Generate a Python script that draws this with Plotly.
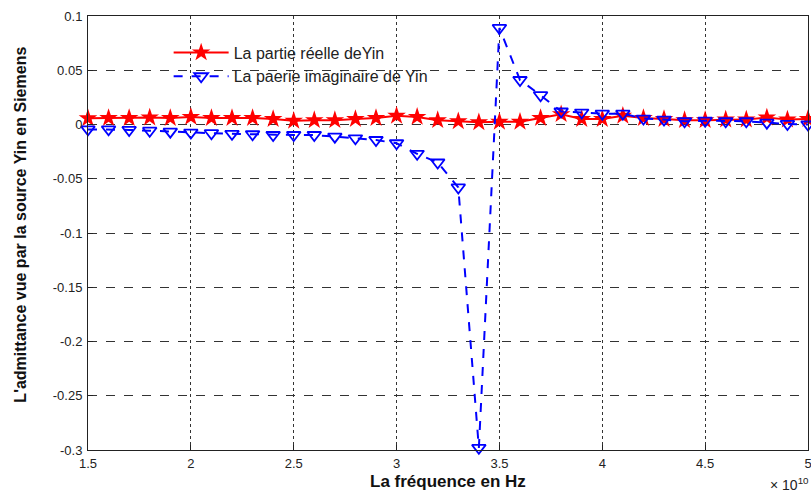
import plotly.graph_objects as go

freq = [1.5, 1.6, 1.7, 1.8, 1.9, 2.0, 2.1, 2.2, 2.3, 2.4, 2.5, 2.6, 2.7, 2.8, 2.9, 3.0,
        3.1, 3.2, 3.3, 3.4, 3.5, 3.6, 3.7, 3.8, 3.9, 4.0, 4.1, 4.2, 4.3, 4.4, 4.5, 4.6,
        4.7, 4.8, 4.9, 5.0]  # x 1e10 Hz

real_part = [0.0057, 0.006, 0.006, 0.0065, 0.006, 0.007, 0.006, 0.006, 0.006, 0.005,
             0.0035, 0.004, 0.004, 0.005, 0.006, 0.008, 0.007, 0.004, 0.003, 0.002,
             0.0025, 0.0025, 0.006, 0.0095, 0.005, 0.005, 0.008, 0.006, 0.005, 0.004,
             0.004, 0.0045, 0.0045, 0.0065, 0.0045, 0.005]

imag_part = [-0.0045, -0.0045, -0.005, -0.0057, -0.0066, -0.0075, -0.008, -0.0086,
             -0.009, -0.0097, -0.0097, -0.0097, -0.0112, -0.0127, -0.0143, -0.0173,
             -0.027, -0.035, -0.058, -0.298, 0.089, 0.041, 0.027, 0.012, 0.011, 0.010,
             0.010, 0.0055, 0.0045, 0.003, 0.0035, 0.003, 0.003, 0.0017, 0.0005, 0.0]

x_ticks = [1.5, 2.0, 2.5, 3.0, 3.5, 4.0, 4.5, 5.0]
x_tick_labels = ["1.5", "2", "2.5", "3", "3.5", "4", "4.5", "5"]
y_ticks = [0.1, 0.05, 0.0, -0.05, -0.1, -0.15, -0.2, -0.25, -0.3]
y_tick_labels = ["0.1", "0.05", "0", "-0.05", "-0.1", "-0.15", "-0.2", "-0.25", "-0.3"]

font = "Arial, Liberation Sans, sans-serif"

fig = go.Figure()
fig.add_trace(go.Scatter(
    x=freq, y=real_part, mode="lines+markers", name="La partie réelle deYin",
    line=dict(color="#ff0000", width=2),
    marker=dict(symbol="star", size=14, color="#ff0000"),
    cliponaxis=False,
))
fig.add_trace(go.Scatter(
    x=freq, y=imag_part, mode="lines+markers", name="La paerie imaginaire de Yin",
    line=dict(color="#0000ff", width=2, dash="dash"),
    marker=dict(symbol="triangle-down-open", size=12, color="#0000ff", line=dict(width=1.8)),
    cliponaxis=False,
))

axis_common = dict(
    showline=True, linecolor="#222222", linewidth=1, mirror=True,
    ticks="inside", ticklen=5, tickcolor="#222222",
    showgrid=True, gridcolor="#333333", gridwidth=1,
    zeroline=False, automargin=False, ticklabeloverflow="allow",
    tickfont=dict(size=13, family=font, color="#222222"),
)

fig.update_layout(
    width=811, height=492,
    margin=dict(l=88, r=3, t=16, b=42),
    paper_bgcolor="white", plot_bgcolor="white",
    font=dict(family=font, size=13, color="#222222"),
    showlegend=True,
    legend=dict(x=0.112, y=0.955, xanchor="left", yanchor="top",
                bgcolor="rgba(0,0,0,0)", font=dict(size=16, family=font, color="#222222"),
                tracegroupgap=0, itemwidth=55),
    xaxis=dict(range=[1.5, 5.0], tickvals=x_ticks, ticktext=x_tick_labels,
               griddash="dot", ticklabelstandoff=1, **axis_common),
    yaxis=dict(range=[-0.3, 0.1], tickvals=y_ticks, ticktext=y_tick_labels,
               griddash="dash", ticklabelstandoff=2, **axis_common),
    annotations=[
        dict(text="<b>La fréquence en Hz</b>", xref="paper", yref="paper",
             x=0.5, y=-0.0735, xanchor="center", yanchor="middle", showarrow=False,
             font=dict(size=17, family=font, color="#111111")),
        dict(text="<b>L'admittance vue par la source Yin en Siemens</b>", xref="paper", yref="paper",
             x=-0.094, y=0.52, xanchor="center", yanchor="middle", showarrow=False, textangle=-90,
             font=dict(size=16, family=font, color="#111111")),
        dict(text="× 10<sup>10</sup>", xref="paper", yref="paper", x=1.004, y=-0.078,
             xanchor="right", yanchor="middle", showarrow=False,
             font=dict(size=14, family=font, color="#222222")),
    ],
)

fig.write_html("out.html", config={"displayModeBar": False},
               post_script="document.body.style.margin='0';")
